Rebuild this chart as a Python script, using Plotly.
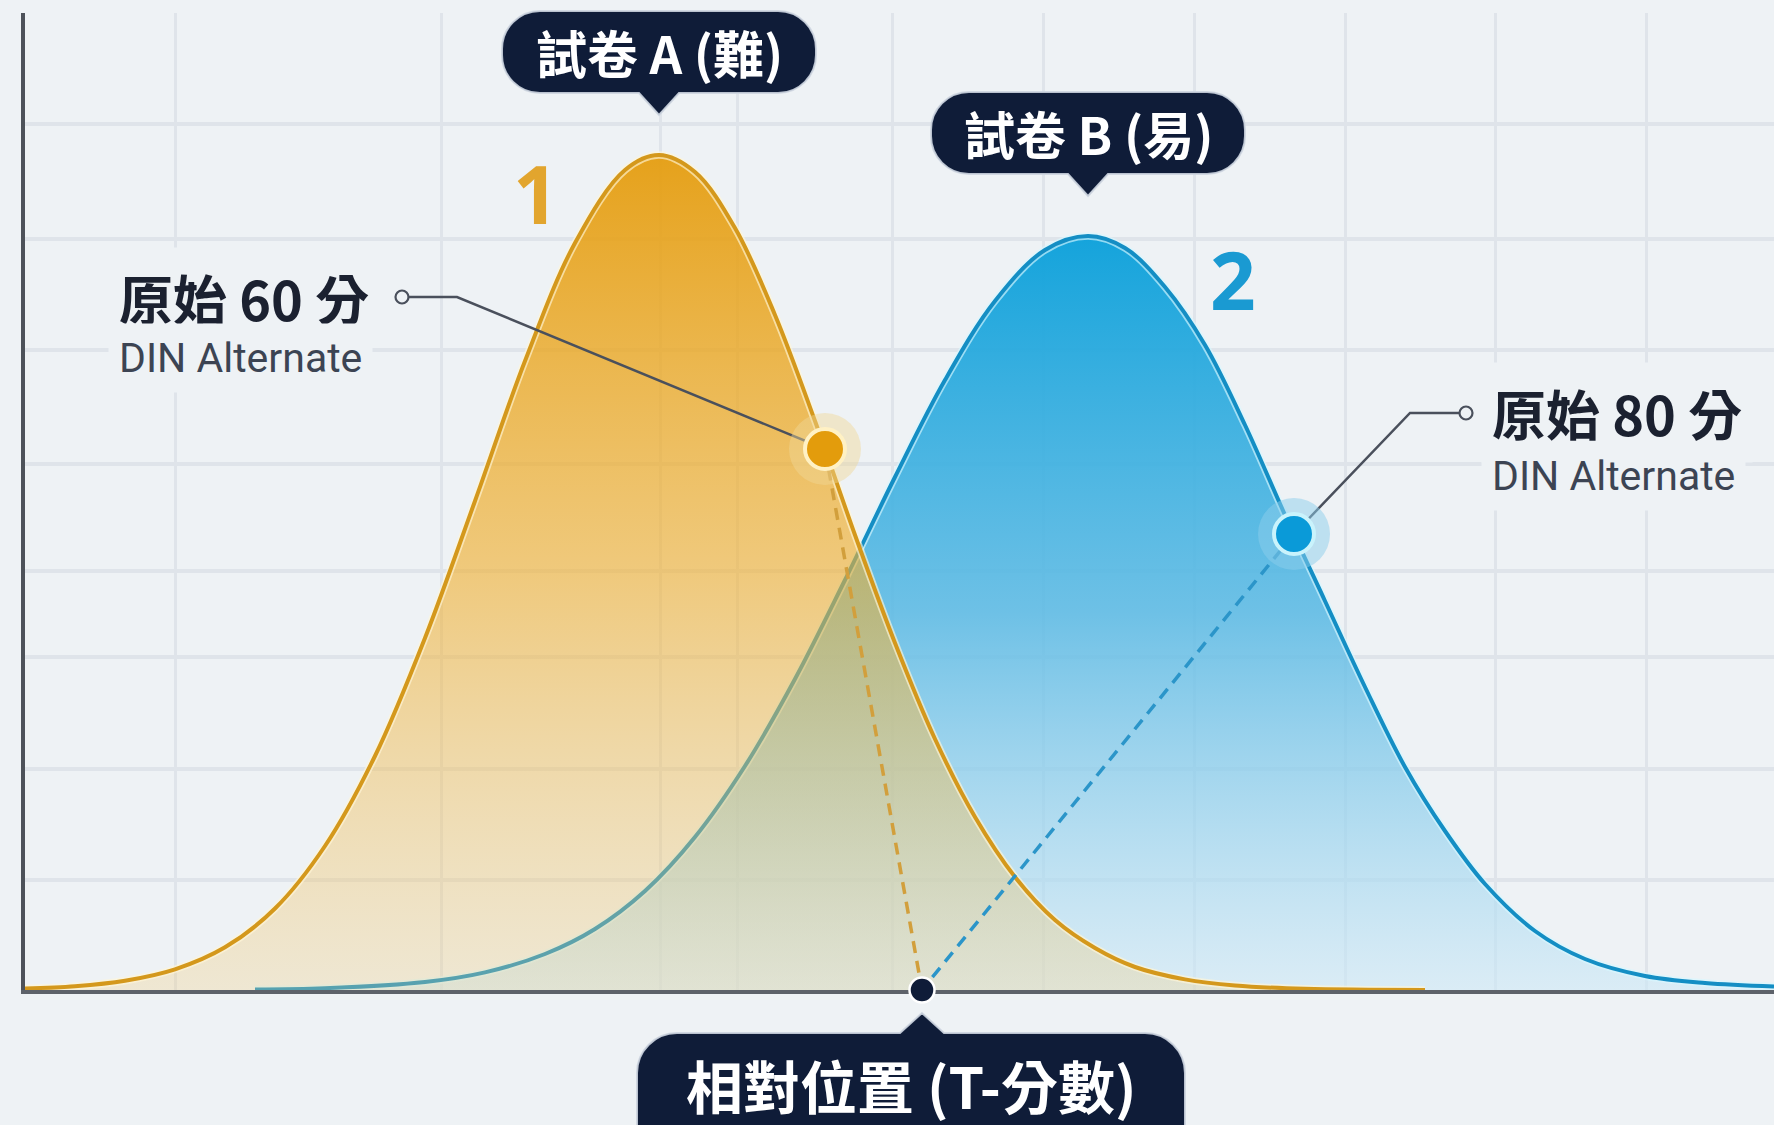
import plotly.graph_objects as go

# ---------------- data ----------------
# Paper A (hard) distribution curve
A_X = [0, 5, 10, 15, 20, 25, 30, 35, 40, 45, 50, 55, 60, 63.4, 67, 71, 75, 79, 83, 87,
       91, 95, 99, 103, 107, 111, 116, 121, 128, 140]
A_Y = [0.15, 0.38, 0.93, 2.07, 4.27, 8.15, 14.4, 23.4, 35.2, 48.9, 62.9, 74.7, 82.0, 83.5,
       81.8, 76.2, 67.5, 56.9, 45.5, 34.7, 25.1, 17.3, 11.3, 7.0, 4.2, 2.3, 1.06, 0.45,
       0.12, 0.01]

# Paper B (easy) distribution curve
B_X = [23, 30, 40, 46, 52, 57, 62, 67, 72, 77, 82, 87, 92, 97, 102, 106.3, 110, 114, 118,
       122, 126, 130, 134, 138, 142, 146, 151, 156, 162, 168, 174.9]
B_Y = [0.05, 0.18, 0.8, 1.76, 3.6, 6.1, 9.9, 15.3, 22.4, 31.1, 41.0, 51.3, 61.0, 68.9,
       74.0, 75.4, 74.2, 70.3, 64.5, 56.5, 47.5, 38.9, 30.3, 22.3, 15.9, 10.6, 5.9, 3.1,
       1.4, 0.7, 0.35]

A_PEAK = (63.4, 83.5)
B_PEAK = (106.3, 75.4)
A_POINT = (80.0, 54.1)     # raw 60 on paper A
B_POINT = (126.9, 45.6)    # raw 80 on paper B
T_POINT = (89.7, 0.0)      # common relative position (T-score)

LABEL_A = "試卷 A (難)"
LABEL_B = "試卷 B (易)"
LABEL_T = "相對位置 (T-分數)"
RAW_A = "原始 60 分"
RAW_B = "原始 80 分"
SUB_TXT = "DIN Alternate"
NUM_A = "1"
NUM_B = "2"

# callout: [small circle end, elbow]
CALLOUT_A = [(37.7, 69.3), (43.2, 69.3)]
CALLOUT_B = [(144.1, 57.7), (138.5, 57.7)]
RAW_A_POS = (9.3, 69.3, 63.2)    # x, title y, subtitle y
RAW_B_POS = (146.6, 57.8, 51.4)

X_GRID = [15.0, 41.6, 63.5, 71.2, 86.7, 101.8, 116.9, 132.0, 147.0, 162.1]
Y_GRID = [11.0, 22.1, 33.3, 41.9, 52.6, 64.0, 75.1, 86.6, 97.6]
X_RANGE = [0, 174.9]
Y_RANGE = [0, 97.7]

# ---------------- styling ----------------
BG = "#eef2f5"
NAVY = "#0f1c38"
CJK = "Noto Sans CJK TC"
GOLD_LINE = "#D4981C"
BLUE_LINE = "#148ec4"


def px(x):
    return (x - X_RANGE[0]) / (X_RANGE[1] - X_RANGE[0])


def py(y):
    return (y - Y_RANGE[0]) / (Y_RANGE[1] - Y_RANGE[0])


def f(v):
    return f"{v:.1f}"


def bubble(left, right, bottom, top, r, tip_y, hw, down=True):
    k = 0.5523 * r
    if down:
        p = [f"M0,{f(tip_y)}", f"L{f(hw)},{f(bottom)}", f"L{f(right - r)},{f(bottom)}",
             f"C{f(right - r + k)},{f(bottom)} {f(right)},{f(bottom + r - k)} {f(right)},{f(bottom + r)}",
             f"L{f(right)},{f(top - r)}",
             f"C{f(right)},{f(top - r + k)} {f(right - r + k)},{f(top)} {f(right - r)},{f(top)}",
             f"L{f(left + r)},{f(top)}",
             f"C{f(left + r - k)},{f(top)} {f(left)},{f(top - r + k)} {f(left)},{f(top - r)}",
             f"L{f(left)},{f(bottom + r)}",
             f"C{f(left)},{f(bottom + r - k)} {f(left + r - k)},{f(bottom)} {f(left + r)},{f(bottom)}",
             f"L{f(-hw)},{f(bottom)}", "Z"]
    else:
        p = [f"M0,{f(tip_y)}", f"L{f(-hw)},{f(top)}", f"L{f(left + r)},{f(top)}",
             f"C{f(left + r - k)},{f(top)} {f(left)},{f(top - r + k)} {f(left)},{f(top - r)}",
             f"L{f(left)},{f(bottom + r)}",
             f"C{f(left)},{f(bottom + r - k)} {f(left + r - k)},{f(bottom)} {f(left + r)},{f(bottom)}",
             f"L{f(right - r)},{f(bottom)}",
             f"C{f(right - r + k)},{f(bottom)} {f(right)},{f(bottom + r - k)} {f(right)},{f(bottom + r)}",
             f"L{f(right)},{f(top - r)}",
             f"C{f(right)},{f(top - r + k)} {f(right - r + k)},{f(top)} {f(right - r)},{f(top)}",
             f"L{f(hw)},{f(top)}", "Z"]
    return " ".join(p)


fig = go.Figure()

# ---- curve B ----
fig.add_trace(go.Scatter(
    x=B_X, y=B_Y, mode="lines", line=dict(width=0, shape="spline"),
    fill="tozeroy",
    fillgradient=dict(type="vertical", colorscale=[
        [0, "rgba(205,232,246,0.6)"], [0.5, "rgba(92,186,228,0.88)"],
        [1, "rgba(16,162,219,0.98)"]]),
    hoverinfo="skip", showlegend=False))
fig.add_trace(go.Scatter(x=B_X, y=B_Y, mode="lines",
                         line=dict(width=7.5, shape="spline", color="rgba(215,247,255,0.65)"),
                         hoverinfo="skip", showlegend=False))
fig.add_trace(go.Scatter(x=B_X, y=B_Y, mode="lines",
                         line=dict(width=4, shape="spline", color=BLUE_LINE),
                         hoverinfo="skip", showlegend=False))

# ---- curve A ----
fig.add_trace(go.Scatter(
    x=A_X, y=A_Y, mode="lines", line=dict(width=0, shape="spline"),
    fill="tozeroy",
    fillgradient=dict(type="vertical", colorscale=[
        [0, "rgba(240,205,130,0.3)"], [0.5, "rgba(240,176,50,0.62)"],
        [1, "rgba(229,158,18,0.96)"]]),
    hoverinfo="skip", showlegend=False))
fig.add_trace(go.Scatter(x=A_X, y=A_Y, mode="lines",
                         line=dict(width=7.5, shape="spline", color="rgba(255,246,215,0.65)"),
                         hoverinfo="skip", showlegend=False))
fig.add_trace(go.Scatter(x=A_X, y=A_Y, mode="lines",
                         line=dict(width=4, shape="spline", color=GOLD_LINE),
                         hoverinfo="skip", showlegend=False))

# ---- callout leader lines ----
for pts, pt in ((CALLOUT_A, A_POINT), (CALLOUT_B, B_POINT)):
    fig.add_trace(go.Scatter(
        x=[pts[0][0], pts[1][0], pt[0]], y=[pts[0][1], pts[1][1], pt[1]],
        mode="lines", line=dict(width=2.5, color="#4a505c"),
        hoverinfo="skip", showlegend=False))

# ---- dashed projection lines ----
fig.add_trace(go.Scatter(x=[A_POINT[0], T_POINT[0]], y=[A_POINT[1], T_POINT[1]],
                         mode="lines", line=dict(width=3.5, color="#d29f3c", dash="12px,8px"),
                         hoverinfo="skip", showlegend=False))
fig.add_trace(go.Scatter(x=[B_POINT[0], T_POINT[0]], y=[B_POINT[1], T_POINT[1]],
                         mode="lines", line=dict(width=3.5, color="#2b95c9", dash="12px,8px"),
                         hoverinfo="skip", showlegend=False))

# ---- highlighted points ----
fig.add_trace(go.Scatter(x=[A_POINT[0]], y=[A_POINT[1]], mode="markers",
                         marker=dict(size=72, color="rgba(240,214,150,0.45)", line=dict(width=0)),
                         hoverinfo="skip", showlegend=False))
fig.add_trace(go.Scatter(x=[A_POINT[0]], y=[A_POINT[1]], mode="markers",
                         marker=dict(size=40, color="#E39C0C", line=dict(width=4, color="#FFF1C4")),
                         hoverinfo="skip", showlegend=False))
fig.add_trace(go.Scatter(x=[B_POINT[0]], y=[B_POINT[1]], mode="markers",
                         marker=dict(size=72, color="rgba(140,205,236,0.5)", line=dict(width=0)),
                         hoverinfo="skip", showlegend=False))
fig.add_trace(go.Scatter(x=[B_POINT[0]], y=[B_POINT[1]], mode="markers",
                         marker=dict(size=40, color="#0A9AD8", line=dict(width=4, color="#C9F3FC")),
                         hoverinfo="skip", showlegend=False))

# small callout end circles
fig.add_trace(go.Scatter(x=[CALLOUT_A[0][0], CALLOUT_B[0][0]], y=[CALLOUT_A[0][1], CALLOUT_B[0][1]],
                         mode="markers",
                         marker=dict(size=13, color=BG, line=dict(width=2.2, color="#4a505c")),
                         hoverinfo="skip", showlegend=False))

# common point on axis
fig.add_trace(go.Scatter(x=[T_POINT[0]], y=[T_POINT[1]], mode="markers", cliponaxis=False,
                         marker=dict(size=25, color=NAVY, line=dict(width=2.5, color="#ffffff")),
                         hoverinfo="skip", showlegend=False))

# ---- label bubbles ----
shapes = []
for peak in (A_PEAK, B_PEAK):
    shapes.append(dict(type="path", xref="paper", yref="paper",
                       xsizemode="pixel", ysizemode="pixel",
                       xanchor=px(peak[0]), yanchor=py(peak[1]),
                       path=bubble(-157, 157, 62, 144, 38, 40, 20, down=True),
                       fillcolor=NAVY, line=dict(color="rgba(205,213,224,0.9)", width=2),
                       layer="above"))
shapes.append(dict(type="path", xref="paper", yref="paper",
                   xsizemode="pixel", ysizemode="pixel",
                   xanchor=px(T_POINT[0]), yanchor=py(T_POINT[1]),
                   path=bubble(-285, 263, -200, -43, 40, -23, 22, down=False),
                   fillcolor=NAVY, line=dict(color="rgba(205,213,224,0.9)", width=2),
                   layer="above"))

annotations = []
for peak, txt in ((A_PEAK, LABEL_A), (B_PEAK, LABEL_B)):
    annotations.append(dict(xref="paper", yref="paper", x=px(peak[0]), y=py(peak[1]),
                            yshift=103, text=txt, showarrow=False,
                            xanchor="center", yanchor="middle",
                            font=dict(family=CJK, size=51, color="white", weight="bold")))
annotations.append(dict(xref="paper", yref="paper", x=px(T_POINT[0]), y=py(T_POINT[1]),
                        xshift=-11, yshift=-94, text=LABEL_T, showarrow=False,
                        xanchor="center", yanchor="middle",
                        font=dict(family=CJK, size=57, color="white", weight="bold")))

# curve numbers
annotations.append(dict(x=A_PEAK[0], y=A_PEAK[1], xshift=-123, yshift=-37, text=NUM_A,
                        showarrow=False, font=dict(family="Noto Sans", size=80,
                                                   color="#E2A52E", weight="bold")))
annotations.append(dict(x=B_PEAK[0], y=B_PEAK[1], xshift=145, yshift=-42, text=NUM_B,
                        showarrow=False, font=dict(family="Noto Sans", size=80,
                                                   color="#1A9AD2", weight="bold")))

# raw score texts
for pos, txt in ((RAW_A_POS, RAW_A), (RAW_B_POS, RAW_B)):
    annotations.append(dict(x=pos[0], y=pos[1], text=txt, showarrow=False,
                            xanchor="left", yanchor="middle", xshift=-10,
                            bgcolor=BG, borderpad=10,
                            font=dict(family=CJK, size=54, color="#1b2130", weight="bold")))
    annotations.append(dict(x=pos[0], y=pos[2], text=SUB_TXT, showarrow=False,
                            xanchor="left", yanchor="middle", xshift=-10,
                            bgcolor=BG, borderpad=10,
                            font=dict(family="Roboto", size=41, color="#3c4453")))

fig.update_layout(
    width=1774, height=1125,
    margin=dict(l=25, r=0, t=13, b=135),
    paper_bgcolor=BG, plot_bgcolor=BG,
    showlegend=False,
    shapes=shapes, annotations=annotations,
    xaxis=dict(range=X_RANGE, tickvals=X_GRID, showticklabels=False, ticks="",
               showgrid=True, gridcolor="#dfe4ea", gridwidth=2.5, zeroline=False,
               showline=True, linecolor="#5d626a", linewidth=4, layer="below traces",
               fixedrange=True),
    yaxis=dict(range=Y_RANGE, tickvals=Y_GRID, showticklabels=False, ticks="",
               showgrid=True, gridcolor="#dfe4ea", gridwidth=4, zeroline=False,
               showline=True, linecolor="#4d525a", linewidth=4,
               fixedrange=True),
)

fig.write_html("out.html",
               config={"displayModeBar": False},
               post_script="document.body.style.margin='0';document.body.style.overflow='hidden';")
